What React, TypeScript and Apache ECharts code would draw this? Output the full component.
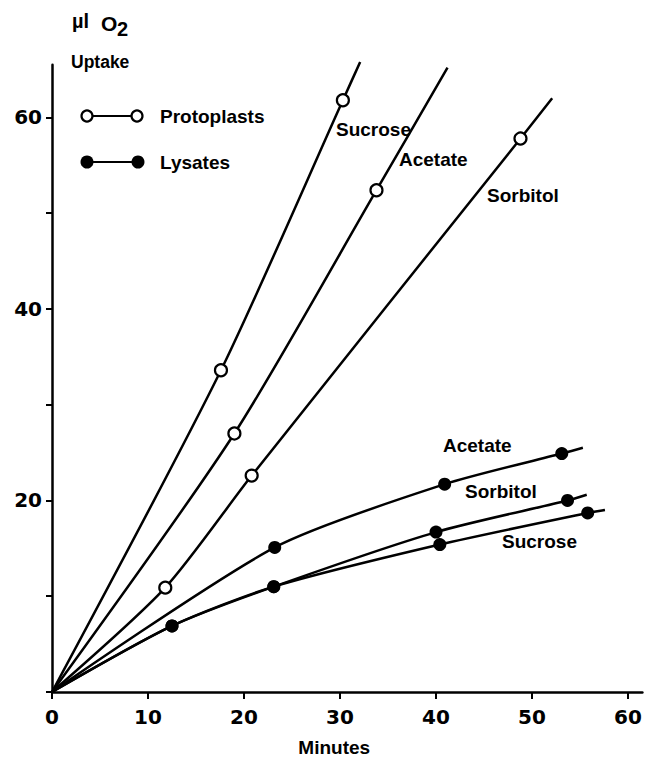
import React, { useEffect, useRef } from "react";
import * as echarts from "echarts";

// ---- data ----
const xTicks = [0, 10, 20, 30, 40, 50, 60];
const yTicks = [0, 10, 20, 30, 40, 50, 60];
const yLabels = [20, 40, 60];

// Protoplasts (open circles)
const protoSucroseMin = [17.6, 30.3];
const protoSucroseUptake = [33.6, 61.8];
const protoSucroseEnd = [32.1, 65.8];

const protoAcetateMin = [19.0, 33.8];
const protoAcetateUptake = [27.0, 52.4];
const protoAcetateEnd = [41.2, 65.2];

const protoSorbitolMin = [11.8, 20.8, 48.8];
const protoSorbitolUptake = [10.9, 22.6, 57.8];
const protoSorbitolEnd = [52.1, 62.0];

// Lysates (filled circles)
const lysAcetateMin = [23.2, 40.9, 53.1];
const lysAcetateUptake = [15.1, 21.7, 24.9];
const lysAcetateEnd = [55.3, 25.5];

const lysSorbitolMin = [12.5, 23.1, 40.0, 53.7];
const lysSorbitolUptake = [6.9, 11.0, 16.7, 20.0];
const lysSorbitolEnd = [55.7, 20.6];

const lysSucroseMin = [12.5, 23.1, 40.4, 55.8];
const lysSucroseUptake = [6.9, 11.0, 15.4, 18.7];
const lysSucroseEnd = [57.6, 19.0];

const origin = [0, 0];

const WORD_FONT = '"Liberation Sans", Arial, sans-serif';
const NUM_FONT = '"DejaVu Sans", sans-serif';

function curve(name: string, mins: number[], ups: number[], end: number[], open: boolean) {
  const data: any[] = [{ value: origin, symbol: "none" }];
  mins.forEach((m, i) => data.push({ value: [m, ups[i]] }));
  data.push({ value: end, symbol: "none" });
  return {
    name,
    type: "line",
    smooth: 0.25,
    clip: false,
    symbol: "circle",
    symbolSize: open ? 12 : 13,
    showSymbol: true,
    lineStyle: { color: "#000", width: 2.5 },
    itemStyle: open
      ? { color: "#fff", borderColor: "#000", borderWidth: 2.2 }
      : { color: "#000", borderColor: "#000", borderWidth: 0 },
    emphasis: { disabled: true },
    data,
    z: open ? 3 : 4,
  };
}

function label(text: string, x: number, y: number, size = 19) {
  return {
    type: "text",
    x,
    y,
    style: {
      text,
      fill: "#000",
      fontFamily: WORD_FONT,
      fontWeight: "bold",
      fontSize: size,
      textAlign: "left",
      textVerticalAlign: "middle",
      verticalAlign: "middle",
    },
    z: 10,
  };
}

export default function App() {
  const ref = useRef<HTMLDivElement>(null);
  useEffect(() => {
    if (!ref.current) return;
    const chart = echarts.init(ref.current, undefined, { renderer: "svg" });
    chart.setOption({
      animation: false,
      backgroundColor: "#fff",
      grid: { left: 52, right: 2.6, top: 64.8, bottom: 89, containLabel: false },
      xAxis: {
        type: "value",
        min: 0,
        max: 61.5,
        interval: 10,
        name: "Minutes",
        nameLocation: "middle",
        nameGap: 46,
        nameTextStyle: {
          fontFamily: WORD_FONT,
          fontWeight: "bold",
          fontSize: 19,
          color: "#000",
          padding: [0, 26, 0, 0],
        },
        axisLine: { show: true, onZero: false, lineStyle: { color: "#000", width: 2.5 } },
        axisTick: { show: true, inside: false, length: 7, customValues: xTicks, lineStyle: { color: "#000", width: 2 } },
        axisLabel: {
          customValues: xTicks,
          margin: 15,
          color: "#000",
          fontFamily: NUM_FONT,
          fontWeight: "bold",
          fontSize: 20,
        },
        splitLine: { show: false },
      },
      yAxis: {
        type: "value",
        min: 0,
        max: 65.5,
        interval: 10,
        axisLine: { show: true, onZero: false, lineStyle: { color: "#000", width: 2.5 } },
        axisTick: { show: true, inside: false, length: 6, customValues: yTicks, lineStyle: { color: "#000", width: 2 } },
        axisLabel: {
          customValues: yLabels,
          margin: 10,
          color: "#000",
          fontFamily: NUM_FONT,
          fontWeight: "bold",
          fontSize: 20,
        },
        splitLine: { show: false },
      },
      series: [
        curve("Protoplasts Sucrose", protoSucroseMin, protoSucroseUptake, protoSucroseEnd, true),
        curve("Protoplasts Acetate", protoAcetateMin, protoAcetateUptake, protoAcetateEnd, true),
        curve("Protoplasts Sorbitol", protoSorbitolMin, protoSorbitolUptake, protoSorbitolEnd, true),
        curve("Lysates Acetate", lysAcetateMin, lysAcetateUptake, lysAcetateEnd, false),
        curve("Lysates Sorbitol", lysSorbitolMin, lysSorbitolUptake, lysSorbitolEnd, false),
        curve("Lysates Sucrose", lysSucroseMin, lysSucroseUptake, lysSucroseEnd, false),
      ],
      graphic: [
        // axis title
        label("µl", 72, 21, 20),
        label("O", 101, 23, 21),
        label("2", 117, 29, 20),
        label("Uptake", 71, 62, 17.5),
        // legend
        { type: "line", shape: { x1: 87, y1: 116, x2: 137, y2: 116 }, style: { stroke: "#000", lineWidth: 2 } },
        { type: "circle", shape: { cx: 87, cy: 116, r: 5.5 }, style: { fill: "#fff", stroke: "#000", lineWidth: 2.2 } },
        { type: "circle", shape: { cx: 137, cy: 116, r: 5.5 }, style: { fill: "#fff", stroke: "#000", lineWidth: 2.2 } },
        label("Protoplasts", 160, 116),
        { type: "line", shape: { x1: 87, y1: 162, x2: 138, y2: 162 }, style: { stroke: "#000", lineWidth: 2 } },
        { type: "circle", shape: { cx: 87, cy: 162, r: 6.5 }, style: { fill: "#000" } },
        { type: "circle", shape: { cx: 138, cy: 162, r: 6.5 }, style: { fill: "#000" } },
        label("Lysates", 160, 162),
        // curve labels
        label("Sucrose", 336, 129.5),
        label("Acetate", 399, 159.5),
        label("Sorbitol", 487, 195),
        label("Acetate", 443, 445),
        label("Sorbitol", 465, 491.5),
        label("Sucrose", 502, 541.5),
      ],
    });
    return () => chart.dispose();
  }, []);
  return (
    <div
      ref={ref}
      style={{ position: "absolute", left: 0, top: 0, width: 645, height: 781, background: "#fff" }}
    />
  );
}
